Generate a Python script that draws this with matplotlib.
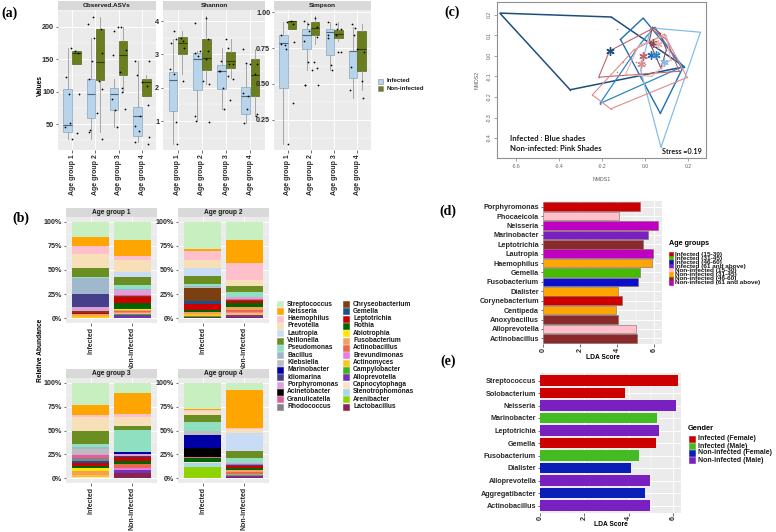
import numpy as np
import matplotlib
matplotlib.use("Agg")
from matplotlib import pyplot as plt
from matplotlib.patches import Rectangle, Polygon
from matplotlib.ticker import MultipleLocator, FormatStrFormatter

W, H = 776, 532

#################################################################
# (a) alpha diversity: (whisker low, q1, median, q3, whisker high)
#################################################################
age_groups = ["Age group 1", "Age group 2", "Age group 3", "Age group 4"]

obs_infected = [(27, 38, 48, 104, 167), (27, 60, 97, 120, 183), (45, 71, 96, 106, 120), (22, 32, 62, 77, 147)]
obs_noninfected = [(142, 142, 160, 162, 165), (38, 118, 146, 196, 215), (100, 126, 156, 178, 200), (93, 93, 115, 120, 125)]
shannon_infected = [(0.3, 1.3, 2.22, 2.47, 3.45), (1.0, 1.93, 2.85, 3.03, 3.1), (1.37, 1.96, 2.49, 2.69, 3.2), (0.95, 1.2, 1.76, 2.03, 2.7)]
shannon_noninfected = [(2.4, 3.02, 3.33, 3.52, 3.7), (2.1, 2.54, 2.9, 3.46, 4.15), (2.3, 2.59, 2.8, 3.07, 3.45), (1.15, 1.76, 2.39, 2.85, 3.15)]
simpson_infected = [(0.08, 0.47, 0.787, 0.838, 0.93), (0.6, 0.74, 0.84, 0.88, 0.93), (0.6, 0.70, 0.86, 0.88, 0.93), (0.4, 0.54, 0.73, 0.73, 0.9)]
simpson_noninfected = [(0.88, 0.88, 0.94, 0.94, 0.94), (0.78, 0.84, 0.89, 0.93, 0.97), (0.8, 0.82, 0.85, 0.877, 0.93), (0.46, 0.59, 0.74, 0.87, 0.92)]

# single samples (jittered dots)
obs_pts_inf = [[27, 37, 45, 160, 167], [27, 41, 67, 117, 120, 160, 215], [45, 72, 73, 88, 106, 200], [22, 30, 40, 63, 80, 147]]
obs_pts_non = [[52, 97, 97, 122, 163], [38, 104, 147, 183, 196, 205], [100, 131, 157, 165, 193, 200], [20, 47, 108, 115, 125, 147]]
shannon_pts_inf = [[0.3, 2.2, 2.55, 3.4, 3.45, 3.7], [0.97, 1.0, 2.2, 2.85, 3.05, 3.1], [1.37, 2.0, 2.25, 2.5, 2.7, 3.2], [0.93, 1.2, 1.35, 1.75, 2.7, 3.15]]
shannon_pts_non = [[0.98, 2.4, 3.2, 3.35, 3.5], [1.15, 2.1, 2.95, 3.1, 3.45, 3.95, 4.1], [1.62, 2.35, 2.5, 2.7, 2.8, 3.45], [1.15, 1.85, 2.4, 2.7, 2.75]]
simpson_pts_inf = [[0.08, 0.37, 0.78, 0.92, 0.93], [0.49, 0.49, 0.6, 0.65, 0.8, 0.83, 0.92], [0.6, 0.63, 0.72, 0.82, 0.88, 0.92, 0.93], [0.62, 0.72, 0.84, 0.89]]
simpson_pts_non = [[0.74, 0.77, 0.79, 0.84, 0.94], [0.49, 0.61, 0.65, 0.87, 0.9, 0.94, 0.96], [0.72, 0.84, 0.84, 0.88], [0.4, 0.46, 0.52, 0.74, 0.92]]

#################################################################
# (b) relative abundance (%) per genus, stacked top -> bottom
#################################################################
genera = ["Streptococcus", "Neisseria", "Haemophilus", "Prevotella", "Lautropia", "Veillonella",
          "Pseudomonas", "Bacillus", "Klebsiella", "Marinobacter", "Idiomarina", "Porphyromonas",
          "Acinetobacter", "Granulicatella", "Rhodococcus", "Chryseobacterium", "Gemella",
          "Leptotrichia", "Rothia", "Abiotrophia", "Fusobacterium", "Actinobacillus",
          "Brevundimonas", "Actinomyces", "Campylobacter", "Alloprevotella", "Capnocytophaga",
          "Stenotrophomonas", "Arenibacter", "Lactobacillus"]
genus_colors = ["#c7efc0", "#ffa500", "#ffc0cb", "#f7dfb8", "#c9dcf5", "#6b8e23",
                "#8fdfc1", "#9fb8cc", "#bdbdbd", "#0000a5", "#463f8a", "#dda0dd",
                "#000000", "#e0609a", "#858585", "#7b4012", "#1e4f8c",
                "#cc0000", "#006400", "#ffe600", "#f5a05a", "#e8684f",
                "#e87ce0", "#ffc61a", "#3cb521", "#7332b8", "#fde0cb",
                "#a6d8ea", "#8fd400", "#8b2252"]
status = ["Infected", "Non-infected"]

ag1_infected = [15.7, 9.4, 8.7, 14, 0, 9.8, 1, 16, 0.5, 0, 13, 4.5, 0, 0, 0, 2.4, 0, 0.4, 0, 0, 2, 0, 0, 2.6, 0, 0, 0, 0, 0, 0]
ag1_noninfected = [19.3, 16, 4.5, 12.3, 5.2, 8, 4.2, 1, 0.5, 0, 0, 5, 0, 1, 0.5, 0.5, 0.5, 6, 6, 0.5, 1.5, 1.5, 0.5, 1.5, 0.5, 3, 0, 0, 0, 0.5]
ag2_infected = [28.6, 1.7, 9.8, 7.7, 8, 8.7, 1.7, 1.4, 1, 0, 0, 0.2, 0, 0, 0, 13.2, 3.1, 6.3, 1.7, 1, 1.4, 0, 0, 2.1, 1.4, 0, 0, 0, 0, 1]
ag2_noninfected = [18.8, 23.7, 17.4, 6.3, 0, 7, 5.2, 0, 0, 0, 0, 2, 0, 0.9, 0, 0.5, 0.5, 2.4, 3.5, 0, 2.8, 2.4, 1.5, 1.7, 0, 2.4, 0, 0, 0, 1]
ag3_infected = [23.7, 10.5, 1.4, 15, 0, 13.9, 2.4, 2, 5.6, 0, 0, 1, 0.5, 2.4, 4, 0, 1.7, 3.5, 1.7, 2.8, 4.5, 0, 0, 1.7, 0, 0, 1.2, 0, 0, 0.5]
ag3_noninfected = [10.5, 22, 3.1, 9.8, 0, 4.2, 23, 0, 0, 1.7, 0, 2.4, 0, 0, 0, 0, 0.7, 4.5, 3.5, 0, 0, 3.5, 2.8, 0, 0, 2.4, 0, 0, 0, 5.9]
ag4_infected = [27.2, 1.4, 1, 4.5, 0, 7, 9.8, 0, 4.2, 12.9, 0, 0, 9.8, 1, 0, 0, 0, 0, 4.2, 0, 0, 0, 0, 0, 0, 0, 1.3, 3.5, 12.2, 0]
ag4_noninfected = [7.7, 39.4, 1.7, 4.2, 18.5, 7, 5.2, 0, 0, 0, 0, 1.4, 0, 0.8, 0, 0, 0.8, 2.4, 2.4, 0, 2.1, 1.7, 1.4, 0, 1.4, 0.9, 0, 0, 0, 1]

#################################################################
# (c) NMDS hulls and centroids
#################################################################
hull_inf_1 = [(-0.677, 0.208), (-0.157, 0.189), (0.184, -0.053), (-0.349, -0.165)]
hull_inf_2 = [(-0.008, 0.184), (-0.114, 0.08), (0.072, -0.28), (0.179, -0.053)]
hull_inf_3 = [(-0.21, -0.232), (-0.02, 0.06), (0.045, 0.14), (0.17, -0.055)]
hull_inf_4 = [(0.027, 0.136), (0.259, 0.115), (0.075, -0.445), (-0.02, -0.07)]
hull_non_1 = [(0.035, 0.14), (0.02, 0.07), (0.075, -0.06), (0.1, 0.03), (0.07, 0.11)]
hull_non_2 = [(-0.216, -0.104), (-0.165, 0.024), (0.03, 0.13), (0.1, 0.08), (0.16, -0.075)]
hull_non_3 = [(-0.245, -0.19), (-0.16, -0.258), (0.197, -0.105), (0.09, 0.105), (-0.05, 0.03)]
hull_non_4 = [(-0.09, -0.09), (-0.03, 0.05), (0.1, 0.1), (0.12, -0.02), (0.03, -0.1)]
centroid_x = [-0.165, 0.027, 0.051, 0.088, 0.04, -0.008, -0.016, 0.06]
centroid_y = [0.022, 0.003, 0.003, -0.032, 0.062, -0.003, -0.04, 0.06]
extra_x = [-0.13, -0.1, -0.13, 0.1, 0.09, 0.0, 0.06, -0.04]
extra_y = [0.13, -0.03, -0.08, -0.085, 0.105, -0.04, 0.02, -0.03]

#################################################################
# (d) LDA by age group, (e) LDA by gender
#################################################################
age_classes = ["Infected (15-30)", "Infected (31-45)", "Infected (46-60)", "Infected (61 and above)",
               "Non-infected (15-30)", "Non-infected (31-45)", "Non-infected (46-60)", "Non-infected (61 and above)"]
age_colors = ["#cc0000", "#44bb00", "#0b10c8", "#7a1fc0", "#ffc0cb", "#ffa500", "#8b2a2a", "#c000c0"]
lda_age_taxa = ["Porphyromonas", "Phocaeicola", "Neisseria", "Marinobacter", "Leptotrichia", "Lautropia",
                "Haemophilus", "Gemella", "Fusobacterium", "Dialister", "Corynebacterium", "Centipeda",
                "Anoxybacillus", "Alloprevotella", "Actinobacillus"]
lda_age_scores = [5.25, 4.12, 6.2, 5.65, 5.38, 5.94, 5.88, 5.25, 5.13, 4.06, 4.26, 3.96, 4.03, 5.02, 5.07]
lda_age_class = ["Infected (15-30)", "Non-infected (15-30)", "Non-infected (61 and above)", "Infected (61 and above)",
                 "Non-infected (46-60)", "Non-infected (61 and above)", "Non-infected (31-45)", "Infected (31-45)",
                 "Infected (46-60)", "Non-infected (31-45)", "Infected (15-30)", "Non-infected (31-45)",
                 "Non-infected (46-60)", "Non-infected (15-30)", "Non-infected (46-60)"]

sex_classes = ["Infected (Female)", "Infected (Male)", "Non-infected (Female)", "Non-infected (Male)"]
sex_colors = ["#cc0000", "#44bb22", "#0a1fb5", "#7a1fc0"]
lda_sex_taxa = ["Streptococcus", "Solobacterium", "Neisseria", "Marinobacter", "Leptotrichia", "Gemella",
                "Fusobacterium", "Dialister", "Alloprevotella", "Aggregatibacter", "Actinobacillus"]
lda_sex_scores = [6.2, 3.83, 6.13, 5.29, 5.34, 5.22, 4.45, 4.09, 4.96, 4.71, 4.95]
lda_sex_class = ["Infected (Female)", "Infected (Female)", "Non-infected (Male)", "Infected (Male)",
                 "Non-infected (Male)", "Infected (Female)", "Infected (Male)", "Non-infected (Female)",
                 "Non-infected (Male)", "Non-infected (Female)", "Non-infected (Male)"]

#################################################################
# helpers
#################################################################
plt.rcParams.update({
    "font.family": ["Liberation Sans", "DejaVu Sans"],
    "font.weight": "bold",
})
fig = plt.figure(figsize=(W / 100, H / 100), dpi=100)


def px_axes(x0, y0, x1, y1):
    return fig.add_axes([x0 / W, 1 - y1 / H, (x1 - x0) / W, (y1 - y0) / H])


def fxy(x, y):
    return x / W, 1 - y / H


def gg_style(ax, fs):
    ax.set_facecolor("#ebebeb")
    for sp in ax.spines.values():
        sp.set_visible(False)
    ax.set_axisbelow(True)
    ax.grid(True, which="major", color="white", lw=0.7)
    ax.grid(True, which="minor", color="white", lw=0.35)
    ax.tick_params(which="major", length=1.8, width=0.5, color="#333333",
                   labelsize=fs, labelcolor="#2b2b2b", pad=1)
    ax.tick_params(which="minor", length=0)


def strip(x0, y0, x1, y1, text, fs):
    s = px_axes(x0, y0, x1, y1)
    s.set_facecolor("#d9d9d9")
    s.set_xticks([])
    s.set_yticks([])
    for sp in s.spines.values():
        sp.set_visible(False)
    s.text(0.5, 0.45, text, transform=s.transAxes, ha="center", va="center",
           fontsize=fs, fontweight="bold", color="#1a1a1a")


def key_legend(x, y, dy, labels, colors, fs, kw, kh, gap, edge=None):
    for i, (lab, col) in enumerate(zip(labels, colors)):
        yc = y + i * dy
        fig.add_artist(Rectangle(fxy(x, yc + kh / 2), kw / W, kh / H, transform=fig.transFigure,
                                 facecolor=col, edgecolor=edge or col, lw=0.4))
        fig.text(*fxy(x + kw + gap, yc), lab, fontsize=fs, fontweight="bold",
                 va="center", ha="left", color="#1a1a1a")


def panel_letter(x, y, s):
    fig.text(*fxy(x, y), s, fontsize=10, fontweight="bold", family="Liberation Serif",
             ha="center", va="center")


#################################################################
# (a) boxplots
#################################################################
metric_names = ["Observed.ASVs", "Shannon", "Simpson"]
a_inf = [obs_infected, shannon_infected, simpson_infected]
a_non = [obs_noninfected, shannon_noninfected, simpson_noninfected]
a_pts_inf = [obs_pts_inf, shannon_pts_inf, simpson_pts_inf]
a_pts_non = [obs_pts_non, shannon_pts_non, simpson_pts_non]
a_xpx = [(58, 156), (163, 265), (274, 371)]
a_ylims = [(10, 226), (0.13, 4.33), (0.04, 1.015)]
a_yticks = [[50, 100, 150, 200], [1, 2, 3, 4], [0.25, 0.5, 0.75, 1.0]]
a_minor = [25, 0.5, 0.125]
a_fmt = ["%d", "%d", "%.2f"]

groups = np.arange(1, 5)
for k in range(3):
    x0, x1 = a_xpx[k]
    strip(x0, 1, x1, 10, metric_names[k], 4.6)
    ax = px_axes(x0, 10, x1, 150)
    gg_style(ax, 5.2)
    for rows, pts, shift, fc, ec, mc in [
        (a_inf[k], a_pts_inf[k], -0.19, "#b8d4ea", "#8aa4ba", "#4f6679"),
        (a_non[k], a_pts_non[k], 0.19, "#6b7e1f", "#56661a", "#2f3a0c"),
    ]:
        stats = [dict(whislo=r[0], q1=r[1], med=r[2], q3=r[3], whishi=r[4], fliers=[]) for r in rows]
        ax.bxp(stats, positions=groups + shift, widths=0.36, patch_artist=True, showcaps=False,
               manage_ticks=False,
               boxprops=dict(facecolor=fc, edgecolor=ec, lw=0.5),
               whiskerprops=dict(color="#9c9c9c", lw=0.6),
               medianprops=dict(color=mc, lw=0.8))
        for g, vals in zip(groups, pts):
            xs = g + 0.3 * np.sin(np.arange(len(vals)) * 2.4 + g * 1.7 + shift * 9)
            ax.scatter(xs, vals, s=1.6, c="black", lw=0, zorder=4)
    ax.set_xlim(0.4, 4.6)
    ax.set_ylim(*a_ylims[k])
    ax.set_xticks(groups)
    ax.set_xticklabels(age_groups, rotation=90, fontsize=5)
    ax.set_yticks(a_yticks[k])
    ax.yaxis.set_major_formatter(FormatStrFormatter(a_fmt[k]))
    ax.yaxis.set_minor_locator(MultipleLocator(a_minor[k]))

fig.text(*fxy(40, 86), "Values", rotation=90, fontsize=4.8, fontweight="bold", ha="center", va="center")
key_legend(378, 81, 7, status, ["#b8d4ea", "#6b7e1f"], 4.4, 5, 5, 3.5, edge="#8a8a8a")
panel_letter(9, 13, "(a)")

#################################################################
# (b) stacked bars
#################################################################
b_bars = [[ag1_infected, ag1_noninfected], [ag2_infected, ag2_noninfected],
          [ag3_infected, ag3_noninfected], [ag4_infected, ag4_noninfected]]
b_px = [(66, 217, 157, 323), (178, 217, 269, 323), (66, 378, 157, 483), (178, 378, 269, 483)]
for k, (x0, y0, x1, y1) in enumerate(b_px):
    strip(x0, y0 - 9, x1, y0, age_groups[k], 4.8)
    ax = px_axes(x0, y0, x1, y1)
    gg_style(ax, 5.1)
    for j, vals in enumerate(b_bars[k]):
        v = np.array(vals, float)
        bottoms = v.sum() - np.cumsum(v)
        ax.bar(np.full(len(v), j + 1), v, bottom=bottoms, width=0.9, color=genus_colors, lw=0)
    ax.set_xlim(0.4, 2.6)
    ax.set_ylim(-5, 105)
    ax.set_xticks([1, 2])
    ax.set_xticklabels(status, rotation=90, fontsize=5)
    ax.set_yticks([0, 25, 50, 75, 100])
    ax.set_yticklabels(["0%", "25%", "50%", "75%", "100%"])
    ax.yaxis.set_minor_locator(MultipleLocator(12.5))

fig.text(*fxy(40, 350), "Relative Abundance", rotation=90, fontsize=4.8, fontweight="bold",
         ha="center", va="center")
key_legend(277, 304, 7.33, genera[:15], genus_colors[:15], 4.8, 6, 6, 4)
key_legend(343, 304, 7.33, genera[15:], genus_colors[15:], 4.8, 6, 6, 4)
panel_letter(21, 218, "(b)")

#################################################################
# (c) NMDS
#################################################################
axc = px_axes(497, 2, 706, 158)
axc.set_xlim(-0.69, 0.285)
axc.set_ylim(-0.497, 0.262)
hulls = [hull_inf_1, hull_inf_2, hull_inf_3, hull_inf_4, hull_non_1, hull_non_2, hull_non_3, hull_non_4]
hull_colors = ["#1d4f7e", "#1f6fb2", "#2a86c8", "#86bde8", "#8b4b57", "#c0646e", "#dc8c8c", "#eab0b0"]
hull_lw = [1.1, 1.0, 0.9, 0.9, 0.8, 0.8, 0.8, 0.8]
for verts, col, lw in zip(hulls, hull_colors, hull_lw):
    axc.add_patch(Polygon(verts, closed=True, fill=False, edgecolor=col, lw=lw))
    vx, vy = zip(*verts)
    axc.scatter(vx, vy, s=1.2, c=col, lw=0)
axc.scatter(extra_x, extra_y, s=1.2, c="#c08080", lw=0)
for cx, cy, col in zip(centroid_x, centroid_y, hull_colors):
    axc.plot(cx, cy, marker=(6, 2, 0), ms=6, mec=col, mew=1.0, ls="none")
axc.set_xticks([-0.6, -0.4, -0.2, 0.0, 0.2])
axc.set_yticks([-0.4, -0.3, -0.2, -0.1, 0.0, 0.1, 0.2])
axc.xaxis.set_major_formatter(FormatStrFormatter("%.1f"))
axc.yaxis.set_major_formatter(FormatStrFormatter("%.1f"))
axc.tick_params(labelsize=3.6, colors="#606060", length=2, width=0.4, pad=2)
for lab in axc.get_yticklabels():
    lab.set_rotation(90)
    lab.set_va("center")
    lab.set_fontweight("normal")
for lab in axc.get_xticklabels():
    lab.set_fontweight("normal")
for sp in axc.spines.values():
    sp.set_color("#909090")
    sp.set_linewidth(0.8)
axc.set_xlabel("NMDS1", fontsize=3.8, fontweight="normal", color="#606060", labelpad=6)
axc.set_ylabel("NMDS2", fontsize=3.8, fontweight="normal", color="#606060", labelpad=5)
axc.text(0.062, 0.128, "Infected : Blue shades", transform=axc.transAxes, family="Lato",
         fontsize=5.6, fontweight="bold", color="#1a1a1a", va="center")
axc.text(0.062, 0.064, "Non-infected: Pink Shades", transform=axc.transAxes, family="Lato",
         fontsize=5.6, fontweight="bold", color="#1a1a1a", va="center")
axc.text(0.98, 0.04, "Stress =0.19", transform=axc.transAxes, family="Lato",
         fontsize=5.2, fontweight="bold", color="#1a1a1a", va="center", ha="right")
panel_letter(452, 12, "(c)")

#################################################################
# (d) LDA by age group
#################################################################
axd = px_axes(543, 201, 662, 344)
gg_style(axd, 5.2)
yd = np.arange(len(lda_age_taxa))
axd.barh(yd, lda_age_scores, height=0.9,
         color=[age_colors[age_classes.index(c)] for c in lda_age_class],
         edgecolor="#806a6a", lw=0.4)
axd.set_ylim(len(yd) - 0.4, -0.6)
axd.set_xlim(0, 6.42)
axd.set_yticks(yd)
axd.set_yticklabels(lda_age_taxa)
axd.set_xticks([0, 2, 4, 6])
axd.set_xticklabels(["0", "2", "4", "6"], rotation=90)
axd.xaxis.set_minor_locator(MultipleLocator(1))
axd.set_xlabel("LDA Score", fontsize=4.8, fontweight="bold", labelpad=1.5)
fig.text(*fxy(669, 243), "Age groups", fontsize=5.2, fontweight="bold", va="center", ha="left")
key_legend(669, 254, 4.1, age_classes, age_colors, 4.6, 4, 4.1, 2)
panel_letter(448, 211, "(d)")

#################################################################
# (e) LDA by gender
#################################################################
axe = px_axes(540, 373, 681, 513)
gg_style(axe, 5.2)
ye = np.arange(len(lda_sex_taxa))
axe.barh(ye, lda_sex_scores, height=0.82,
         color=[sex_colors[sex_classes.index(c)] for c in lda_sex_class], lw=0)
axe.set_ylim(len(ye) - 0.4, -0.6)
axe.set_xlim(0, 6.35)
axe.set_yticks(ye)
axe.set_yticklabels(lda_sex_taxa)
axe.set_xticks([0, 2, 4, 6])
axe.set_xticklabels(["0", "2", "4", "6"], rotation=90)
axe.tick_params(axis="x", pad=0.5)
axe.xaxis.set_minor_locator(MultipleLocator(1))
axe.set_xlabel("LDA Score", fontsize=4.8, fontweight="bold", labelpad=0.5)
fig.text(*fxy(688, 428), "Gender", fontsize=5.4, fontweight="bold", va="center", ha="left")
key_legend(689, 439, 7, sex_classes, sex_colors, 5, 6, 6, 3)
panel_letter(448, 361, "(e)")

fig.savefig("out.png", dpi=100)
